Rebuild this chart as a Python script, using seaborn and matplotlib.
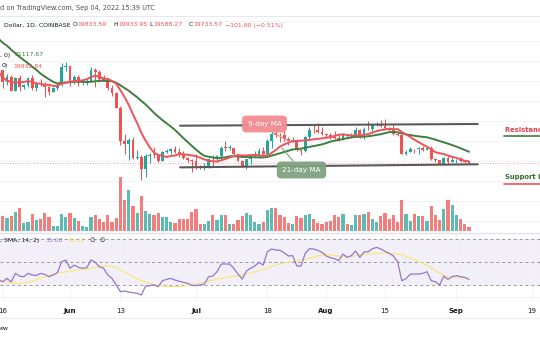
import numpy as np
import pandas as pd
import matplotlib
matplotlib.use("Agg")
import matplotlib.pyplot as plt
import matplotlib.dates as mdates
from matplotlib.lines import Line2D
import seaborn as sns

# ---------------- data ----------------
start_date = "2022-05-15"
n_days = 113

closes_before = [40430, 38110, 39240, 39740, 38600, 37650, 38470, 38530, 37720, 39700,
                 36550, 36030, 35470, 34050, 30100, 31020, 28940, 29050, 29290, 30080]  # Apr 25 - May 14

opens = [29830, 31300, 29850, 30420, 28700, 30300, 29200, 29430, 30300, 29100, 29650, 29540, 29200, 28620, 29030, 29470, 31720,
         31790, 29800, 30460, 29700, 29860, 29900, 31370, 31130, 30200, 30110, 29090, 28420, 26570, 22480, 22140, 22580, 20380, 20470,
         19010, 20550, 20720, 20710, 19980, 21100, 21230, 21500, 21030, 20730, 20280, 20100,
         19930, 19300, 19250, 19300, 20230, 20190, 20550, 21620, 21590, 21590, 20850, 19960, 19330, 20230, 20580, 20830, 21190, 20790,
         22430, 23400, 23230, 23150, 22690, 22450, 22580, 21310, 21250, 22960, 23850, 23780, 23640,
         23300, 23270, 22990, 22820, 22620, 23310, 23170, 23180, 23810, 23160, 23950, 23940, 24400, 24440, 24300, 24100, 23850,
         23340, 23190, 20830, 21140, 21520, 21400, 21530, 21370, 21560, 20240, 20040, 19550, 20290, 19800, 20050,
         20130, 19950, 19833.59]
highs = [31400, 31320, 30780, 30680, 30520, 30750, 29620, 30470, 30660, 29830, 30200, 29850, 29370, 29250, 29530, 32200, 32380,
         31980, 30650, 30680, 29950, 30150, 31750, 31550, 31330, 30680, 30350, 29450, 28560, 26880, 23350, 22780, 22980, 21350, 20760,
         20800, 21000, 21720, 20880, 21200, 21520, 21600, 21880, 21540, 21200, 20400, 20160,
         20880, 19420, 19650, 20340, 20720, 20660, 21820, 22500, 21960, 21600, 20860, 20060, 20250, 20880, 21200, 21580, 21680, 22750,
         23760, 24280, 23430, 23760, 22990, 23000, 22650, 21330, 23100, 24200, 24450, 24650, 24180,
         23480, 23450, 23650, 23220, 23450, 23340, 23400, 24230, 23930, 24200, 24900, 24450, 24890, 25050, 25210, 24240, 24450,
         23600, 23200, 21370, 21690, 21520, 21650, 21880, 21820, 21870, 20340, 20140, 20400, 20570, 20480, 20200,
         20430, 20050, 19933.95]
lows = [29480, 29100, 29450, 28650, 28680, 28730, 28950, 29240, 28860, 28650, 29300, 28020, 28220, 28540, 28840, 29300, 31200,
        29320, 29600, 29280, 29480, 29500, 29880, 29220, 29850, 29970, 28850, 28100, 26560, 21900, 20850, 20080, 20250, 20230, 17600,
        17950, 19650, 20350, 19780, 19900, 20900, 20800, 20990, 20520, 20200, 19850, 18630,
        19000, 18980, 18800, 19060, 19300, 19780, 20260, 21200, 21330, 20670, 19900, 19240, 18910, 19620, 20400, 20500, 20750, 20770,
        21590, 23000, 22340, 22500, 22000, 22300, 21250, 20700, 21050, 22600, 23420, 23500, 23230,
        22850, 22680, 22700, 22450, 22590, 22930, 22840, 23160, 22880, 22680, 23870, 23600, 24300, 24150, 23800, 23700, 23190,
        23100, 20800, 20770, 21100, 20900, 20890, 21160, 21340, 20130, 19800, 19530, 19550, 19550, 19800, 19650,
        19780, 19660, 19588.27]
closes = [31300, 29850, 30420, 28700, 30300, 29200, 29430, 30300, 29100, 29650, 29540, 29200, 28620, 29030, 29470, 31720, 31790,
          29800, 30460, 29700, 29860, 29900, 31370, 31130, 30200, 30110, 29090, 28420, 26570, 22480, 22140, 22580, 20380, 20470, 19010,
          20550, 20720, 20710, 19980, 21100, 21230, 21500, 21030, 20730, 20280, 20100, 19930,
          19300, 19250, 19300, 20230, 20190, 20550, 21620, 21590, 21590, 20850, 19960, 19330, 20230, 20580, 20830, 21190, 20790, 22430,
          23400, 23230, 23150, 22690, 22450, 22580, 21310, 21250, 22960, 23850, 23780, 23640, 23300,
          23270, 22990, 22820, 22620, 23310, 23170, 23180, 23810, 23160, 23950, 23940, 24400, 24440, 24300, 24100, 23850, 23340,
          23190, 20830, 21140, 21520, 21400, 21530, 21370, 21560, 20240, 20040, 19550, 20290, 19800, 20050, 20130,
          19950, 19830, 19733.57]
volume = [14, 15, 12.7, 15, 19, 23, 7.7, 8.7, 17, 11, 12, 18, 14, 5.3, 5, 17, 14,
          18, 12.7, 10, 5, 4.3, 13.7, 16, 12, 9.3, 15.7, 9.3, 12.7, 53.7, 31, 41, 25.3, 17.7, 35,
          20, 17, 16.3, 17.7, 14.3, 14.3, 8.7, 7.7, 11.7, 11.7, 11.7, 19,
          21.7, 7.3, 7.3, 10, 15.7, 10.7, 16.3, 16.3, 7.3, 6.7, 10.7, 14.7, 18.3, 15.7, 9, 7.3, 9, 20.7,
          23.3, 23.3, 15.7, 14, 8.3, 6.7, 14.7, 13, 16.3, 17.3, 12.3, 8.3, 6.7,
          9, 10, 15.7, 14, 17.3, 6.7, 5.7, 15.7, 15.7, 17.3, 19, 11.7, 9, 15, 18, 11.7, 15.7,
          9, 30.7, 17.3, 10, 16.7, 15, 15, 10, 24.7, 15.7, 10.7, 21.7, 30.7, 25.7, 15.7,
          12.3, 6.7, 4]
rsi = [34.6, 33.1, 36.0, 33.0, 40.4, 38.0, 37.5, 40.4, 39.0, 38.5, 40.4, 39.5, 37.5, 39.0, 41.0, 50.5, 52.0,
       44.8, 47.6, 45.6, 44.8, 45.3, 52.0, 50.0, 46.2, 44.8, 39.0, 36.0, 30.3, 24.5, 25.0, 24.2, 23.6, 23.0, 21.6,
       29.4, 29.7, 30.3, 28.8, 34.0, 35.2, 36.0, 34.6, 33.5, 32.6, 31.7, 30.0,
       29.7, 30.3, 31.0, 37.5, 38.0, 41.8, 48.5, 48.5, 48.5, 44.8, 39.8, 35.5, 42.4, 44.8, 46.8, 50.0, 47.6, 59.2,
       61.6, 60.7, 60.4, 58.3, 55.5, 55.8, 46.8, 46.8, 57.8, 61.8, 61.6, 60.4, 58.7,
       55.5, 54.0, 53.2, 51.4, 57.2, 54.3, 55.8, 59.8, 54.3, 59.0, 59.2, 61.8, 63.0, 61.6, 59.5, 57.8, 55.5,
       50.5, 34.0, 35.8, 39.6, 39.8, 39.8, 40.4, 41.8, 34.0, 33.1, 30.3, 38.0, 35.2, 37.5, 38.4,
       37.5, 36.9, 35.08]
rsi_sma = [34.6, 33.6, 33.0, 32.5, 32.0, 31.7, 32.0, 32.6, 33.6, 34.8, 36.2, 37.4, 38.5, 39.6, 40.5, 41.2, 41.7,
           42.2, 42.9, 43.2, 43.7, 44.2, 44.9, 45.6, 46.2, 46.6, 46.8, 46.8, 45.6, 43.5, 41.5, 39.5, 37.2, 35.5, 34.2,
           32.8, 31.7, 30.8, 30.0, 29.4, 29.0, 28.8, 28.8, 28.9, 29.2, 29.7, 30.4,
           31.2, 32.0, 32.8, 33.7, 34.5, 35.3, 36.0, 36.6, 37.2, 37.8, 38.4, 39.0, 39.7, 40.6, 41.6, 42.7, 43.8, 45.0,
           46.5, 47.6, 48.7, 49.5, 50.2, 50.8, 51.3, 51.8, 52.6, 53.5, 54.6, 55.6, 56.6,
           57.0, 56.6, 55.8, 55.3, 55.0, 54.9, 55.2, 55.8, 56.6, 57.0, 57.3, 57.6, 57.8, 57.8, 57.8, 57.7, 57.5,
           57.2, 56.4, 55.1, 53.6, 52.3, 50.9, 49.2, 47.3, 45.2, 42.6, 40.5, 38.6, 37.8, 37.3, 37.0,
           36.7, 36.4, 36.12]

resistance_dates = ["2022-06-27 05:00", "2022-09-06 02:00"]
resistance_prices = [24375, 24590]
support_dates = ["2022-06-27 05:00", "2022-09-06 02:00"]
support_prices = [19170, 19550]

tick_dates = ["2022-05-16", "2022-06-01", "2022-06-13", "2022-07-01", "2022-07-18",
              "2022-08-01", "2022-08-15", "2022-09-01", "2022-09-19"]
tick_labels = ["16", "Jun", "13", "Jul", "18", "Aug", "15", "Sep", "19"]
tick_bold = [False, True, False, True, False, True, False, True, False]

# ---------------- derived ----------------
dates = pd.date_range(start_date, periods=n_days)
df = pd.DataFrame({"date": dates, "open": opens, "high": highs, "low": lows, "close": closes,
                   "volume": volume, "rsi": rsi, "rsi_sma": rsi_sma})
full_close = pd.Series(closes_before + closes)
df["ma9"] = full_close.rolling(9).mean().iloc[len(closes_before):].values
df["ma21"] = full_close.rolling(21).mean().iloc[len(closes_before):].values
x = mdates.date2num(df["date"])
up = df["close"] >= df["open"]

UP = "#26a69a"
DN = "#ef5350"
GRID = "#f0f3fa"

sns.set_theme(style="white")
plt.rcParams["font.family"] = ["DejaVu Sans"]

W, H = 540, 340
fig = plt.figure(figsize=(W / 100, H / 100), dpi=100)
fig.patch.set_facecolor("white")


def fy(y):
    return 1 - y / H


def fx(xp):
    return xp / W


# axis ranges derived from pixel layout
jun1 = mdates.date2num(pd.Timestamp("2022-06-01"))
px_per_day = 4.2
xlim = (jun1 - 70 / px_per_day, jun1 + (W - 70) / px_per_day)
price_per_px = 125.0
y_main_top, y_main_bot = 16, 232
ylim_main = (20000 - (y_main_bot - 160.7) * price_per_px, 20000 + (160.7 - y_main_top) * price_per_px)

ax = fig.add_axes([0, fy(y_main_bot), 1, (y_main_bot - y_main_top) / H])
axv = ax.twinx()
ax.set_zorder(2)
ax.patch.set_visible(False)
axv.set_zorder(1)

# volume
vcol = np.where(up, UP, DN)
axv.bar(x, df["volume"], width=0.78, color=vcol, alpha=0.75, linewidth=0)
axv.set_ylim(-1, y_main_bot - y_main_top - 1)
axv.set_yticks([])
axv.set_xlim(*xlim)

# grid
ax.set_xlim(*xlim)
ax.set_ylim(*ylim_main)
tick_nums = mdates.date2num(pd.to_datetime(tick_dates))
ax.set_xticks(tick_nums)
axv.set_xticks(tick_nums)
axv.grid(True, axis="x", color=GRID, lw=0.8)
axv.set_axisbelow(True)
ax.grid(False)
for yy in np.arange(12500, 38000, 2500):
    y_px = 160.7 - (yy - 20000) / price_per_px
    axv.axhline((y_main_bot - 1) - y_px, color=GRID, lw=0.8, zorder=0)
ax.tick_params(left=False, bottom=False, labelleft=False, labelbottom=False, length=0)
axv.tick_params(right=False, bottom=False, labelright=False, labelbottom=False, length=0)
for a in (ax, axv):
    for s in a.spines.values():
        s.set_visible(False)

# candles
col = np.where(up, UP, DN)
ax.vlines(x, df["low"], df["high"], colors=col, lw=0.75, zorder=3)
body_lo = np.minimum(df["open"], df["close"])
body_h = np.maximum(np.abs(df["close"] - df["open"]), 80)
ax.bar(x, body_h, bottom=body_lo, width=0.7, color=col, linewidth=0, zorder=4)

# moving averages
sns.lineplot(x=df["date"], y=df["ma21"], ax=ax, color="#3f7e3f", lw=1.4, zorder=5)
sns.lineplot(x=df["date"], y=df["ma9"], ax=ax, color="#f0525a", lw=1.4, zorder=6)
ax.set_xlabel("")
ax.set_ylabel("")
ax.set_xlim(*xlim)
ax.set_ylim(*ylim_main)

# last price line
ax.axhline(df["close"].iloc[-1], color=DN, lw=0.6, ls=(0, (1, 2)), alpha=0.7, zorder=2)

# resistance / support
ax.plot(pd.to_datetime(resistance_dates), resistance_prices, color="#5a5a5a", lw=1.5, zorder=7)
ax.plot(pd.to_datetime(support_dates), support_prices, color="#5a5a5a", lw=1.5, zorder=7)

# labels for MAs
fig.add_artist(Line2D([fx(274), fx(290)], [fy(133), fy(142)], color="#f28b90", lw=0.8, zorder=8))
fig.add_artist(Line2D([fx(282), fx(293)], [fy(148), fy(161)], color="#7a9e7a", lw=0.8, zorder=8))
fig.text(fx(264.5), fy(124), "9-day MA", ha="center", va="center", color="white", fontsize=5.2, zorder=9,
         bbox=dict(boxstyle="round,pad=0.75,rounding_size=0.6", fc="#f28b90", ec="none", alpha=0.95))
fig.text(fx(301.5), fy(170), "21-day MA", ha="center", va="center", color="white", fontsize=5.2, zorder=9,
         bbox=dict(boxstyle="round,pad=0.75,rounding_size=0.6", fc="#7fa27f", ec="none", alpha=0.95))

# resistance / support text
fig.text(fx(505), fy(130.5), "Resistance Level", ha="left", va="center", color="#e8404a",
         fontsize=4.9, fontweight="bold")
fig.add_artist(Line2D([fx(504), fx(540)], [fy(136), fy(136)], color="#3f7e3f", lw=1.2))
fig.text(fx(505), fy(177.5), "Support Level", ha="left", va="center", color="#2f6b2f",
         fontsize=4.9, fontweight="bold")
fig.add_artist(Line2D([fx(504), fx(540)], [fy(184), fy(184)], color="#f0525a", lw=1.2))

# ---------------- RSI panel ----------------
y_rsi_top, y_rsi_bot = 233, 302
rsi_per_px = 1.15
rsi_top = 50 + (262.3 - y_rsi_top) / rsi_per_px
rsi_bot = 50 - (y_rsi_bot - 262.3) / rsi_per_px
axr = fig.add_axes([0, fy(y_rsi_bot), 1, (y_rsi_bot - y_rsi_top) / H])
axr.set_xlim(*xlim)
axr.set_ylim(rsi_bot, rsi_top)
axr.set_yticks([20, 40, 60])
axr.set_xticks(tick_nums)
axr.grid(True, color=GRID, lw=0.8)
axr.set_axisbelow(True)
axr.axhspan(30, 70, color="#7e57c2", alpha=0.09, lw=0, zorder=0.5)
for lvl in (70, 50, 30):
    axr.axhline(lvl, color="#9598a1", lw=0.7, ls=(0, (3, 3)), zorder=1)
sns.lineplot(x=df["date"], y=df["rsi_sma"], ax=axr, color="#f7e879", lw=0.9, zorder=3)
sns.lineplot(x=df["date"], y=df["rsi"], ax=axr, color="#9575cd", lw=0.9, zorder=4)
axr.set_xlim(*xlim)
axr.set_ylim(rsi_bot, rsi_top)
axr.set_xlabel("")
axr.set_ylabel("")
for s in axr.spines.values():
    s.set_visible(False)
axr.tick_params(left=False, bottom=False, labelleft=False, labelbottom=True, length=0, pad=4.5,
                labelsize=5.0, labelcolor="#131722")
axr.set_xticklabels(tick_labels)
for lab, b in zip(axr.get_xticklabels(), tick_bold):
    lab.set_fontweight("bold" if b else "normal")

# separators
fig.add_artist(Line2D([0, 1], [fy(16), fy(16)], color="#e6e9f0", lw=0.8))
fig.add_artist(Line2D([0, 1], [fy(232.5), fy(232.5)], color="#e0e3eb", lw=1.0))
fig.add_artist(Line2D([0, 1], [fy(318), fy(318)], color="#eceef3", lw=1.0))

# ---------------- header texts ----------------
TXT = "#131722"
fs1 = 4.7
fs = 4.4
fig.text(fx(0), fy(8), "d on TradingView.com, Sep 04, 2022 15:39 UTC", ha="left", va="center",
         color="#4a4e5a", fontsize=fs1)
fig.text(fx(4), fy(25), "Dollar, 1D, COINBASE", ha="left", va="center", color=TXT, fontsize=fs)
ohlc_items = [(72.5, "O", 77, "19833.59"), (113.5, "H", 118, "19933.95"),
              (149.5, "L", 153.5, "19588.27"), (188.5, "C", 193, "19733.57")]
for lx, l, vx, v in ohlc_items:
    fig.text(fx(lx), fy(25), l, ha="left", va="center", color=TXT, fontsize=fs)
    fig.text(fx(vx), fy(25), v, ha="left", va="center", color=DN, fontsize=fs)
fig.text(fx(225), fy(25), "\u2212101.90 (\u22120.51%)", ha="left", va="center", color=DN, fontsize=fs)

fig.text(fx(0), fy(55), ", 0)", ha="left", va="center", color=TXT, fontsize=fs)
fig.text(fx(15), fy(55), "21117.67", ha="left", va="center", color="#3f7e3f", fontsize=fs)
fig.text(fx(1.5), fy(66), "0)", ha="left", va="center", color=TXT, fontsize=fs)
fig.text(fx(13), fy(66), "19932.84", ha="left", va="center", color=DN, fontsize=fs)

fig.text(fx(0), fy(240.5), ", SMA, 14, 2)", ha="left", va="center", color=TXT, fontsize=fs)
fig.text(fx(46), fy(240.5), "35.08", ha="left", va="center", color="#9575cd", fontsize=fs)
fig.text(fx(68), fy(240.5), "36.12", ha="left", va="center", color="#eed84e", fontsize=fs)
fig.text(fx(90), fy(240.5), "\u2205", ha="left", va="center", color=TXT, fontsize=fs)
fig.text(fx(99), fy(240.5), "\u2205", ha="left", va="center", color=TXT, fontsize=fs)

fig.text(fx(0), fy(329), "ew", ha="left", va="center", color=TXT, fontsize=fs)

fig.savefig("out.png", dpi=100, facecolor="white")
